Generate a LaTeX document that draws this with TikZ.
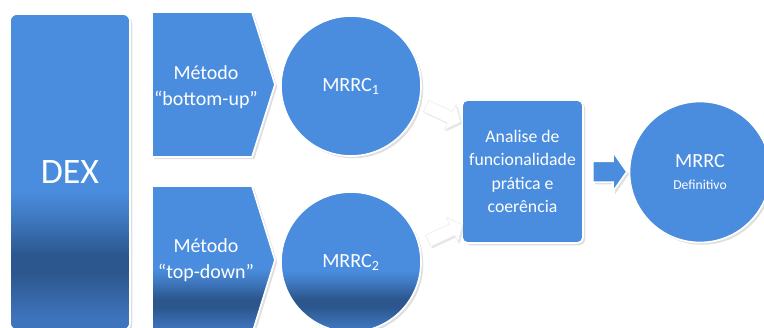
\documentclass[tikz,border=0pt]{standalone}
\usepackage{fontspec}
\setmainfont{Carlito}
\usepackage{tikz}
\usetikzlibrary{shapes.arrows,shadows,positioning,calc}
\definecolor{boxblue}{RGB}{74,141,222}
\definecolor{banddark}{RGB}{44,87,142}
\definecolor{bandlow}{RGB}{62,116,188}
\pgfdeclareverticalshading{bandshade}{100bp}{color(0bp)=(bandlow); color(27bp)=(bandlow); color(34bp)=(banddark); color(37bp)=(banddark); color(42bp)=(banddark!45!boxblue); color(47bp)=(boxblue); color(100bp)=(boxblue)}
\tikzstyle{soft} = [drop shadow={shadow xshift=1.6pt,shadow yshift=-1.6pt,opacity=0.25}]
\tikzstyle{dexbar} = [rectangle,rounded corners=5pt,minimum width=3cm,minimum height=7.9cm,shading=bandshade,draw=white,line width=1.2pt,soft,text=white,font=\fontsize{25.5}{30}\selectfont]
\tikzstyle{chevron} = [fill=boxblue,draw=white,line width=1.2pt,soft]
\tikzstyle{methodtext} = [align=center,text=white,font=\fontsize{14.2}{18.4}\selectfont]
\tikzstyle{stage} = [circle,minimum size=3.5cm,inner sep=0pt,fill=boxblue,draw=white,line width=1.2pt,soft,text=white,align=center,font=\fontsize{14.3}{17}\selectfont]
\tikzstyle{evalbox} = [rectangle,rounded corners=4pt,minimum width=3.025cm,minimum height=3.575cm,fill=boxblue,draw=white,line width=1.2pt,soft,text=white,align=center,font=\fontsize{12.6}{16.5}\selectfont]
\tikzstyle{ghostarrow} = [single arrow,fill=white,draw=black!8,line width=0.4pt,inner sep=0.15cm,minimum height=0.95cm,minimum width=0.675cm,single arrow head extend=0.19cm,single arrow tip angle=100,drop shadow={shadow xshift=1.2pt,shadow yshift=-1.2pt,opacity=0.2}]
\tikzstyle{fatarrow} = [single arrow,fill=boxblue,draw=white,line width=1.2pt,inner sep=0.2375cm,minimum height=0.85cm,minimum width=0.95cm,single arrow head extend=0.24cm,single arrow tip angle=110,soft]

\begin{document}
\begin{tikzpicture}[x=0.025cm,y=-0.025cm]
    \useasboundingbox (0,0) rectangle (764,328);
    \node [dexbar] (dex) at (70,172) {DEX};
    % the two methods
    \path [chevron] (152,12) -- (252,12) -- (275,84.5) -- (252,157) -- (152,157) -- cycle;
    \path [chevron,shading=bandshade] (152,186) -- (252,186) -- (275,260) -- (252,334) -- (152,334) -- cycle;
    \node [methodtext] (bu) at (206,87) {Método\\“bottom-up”};
    \node [methodtext] (td) at (206,260) {Método\\“top-down”};
    \node [stage] (m1) at (351,86) {MRRC\textsubscript{1}};
    \node [stage,shading=bandshade] (m2) at (351,262) {MRRC\textsubscript{2}};
    \node [evalbox] (an) at (522.5,171.5) {Analise de\\funcionalidade\\prática e\\coerência};
    \node [stage,minimum size=3.525cm] (fin) at (700,172) {MRRC\\[-1pt]{\fontsize{9.7}{12}\selectfont Definitivo}};
    \node [ghostarrow,rotate=-25] (g1) at (441,113) {};
    \node [ghostarrow,rotate=25] (g2) at (443,234) {};
    \node [fatarrow] (fa) at ($(an.east)!0.5!(fin.west)$) {};
\end{tikzpicture}
\end{document}
